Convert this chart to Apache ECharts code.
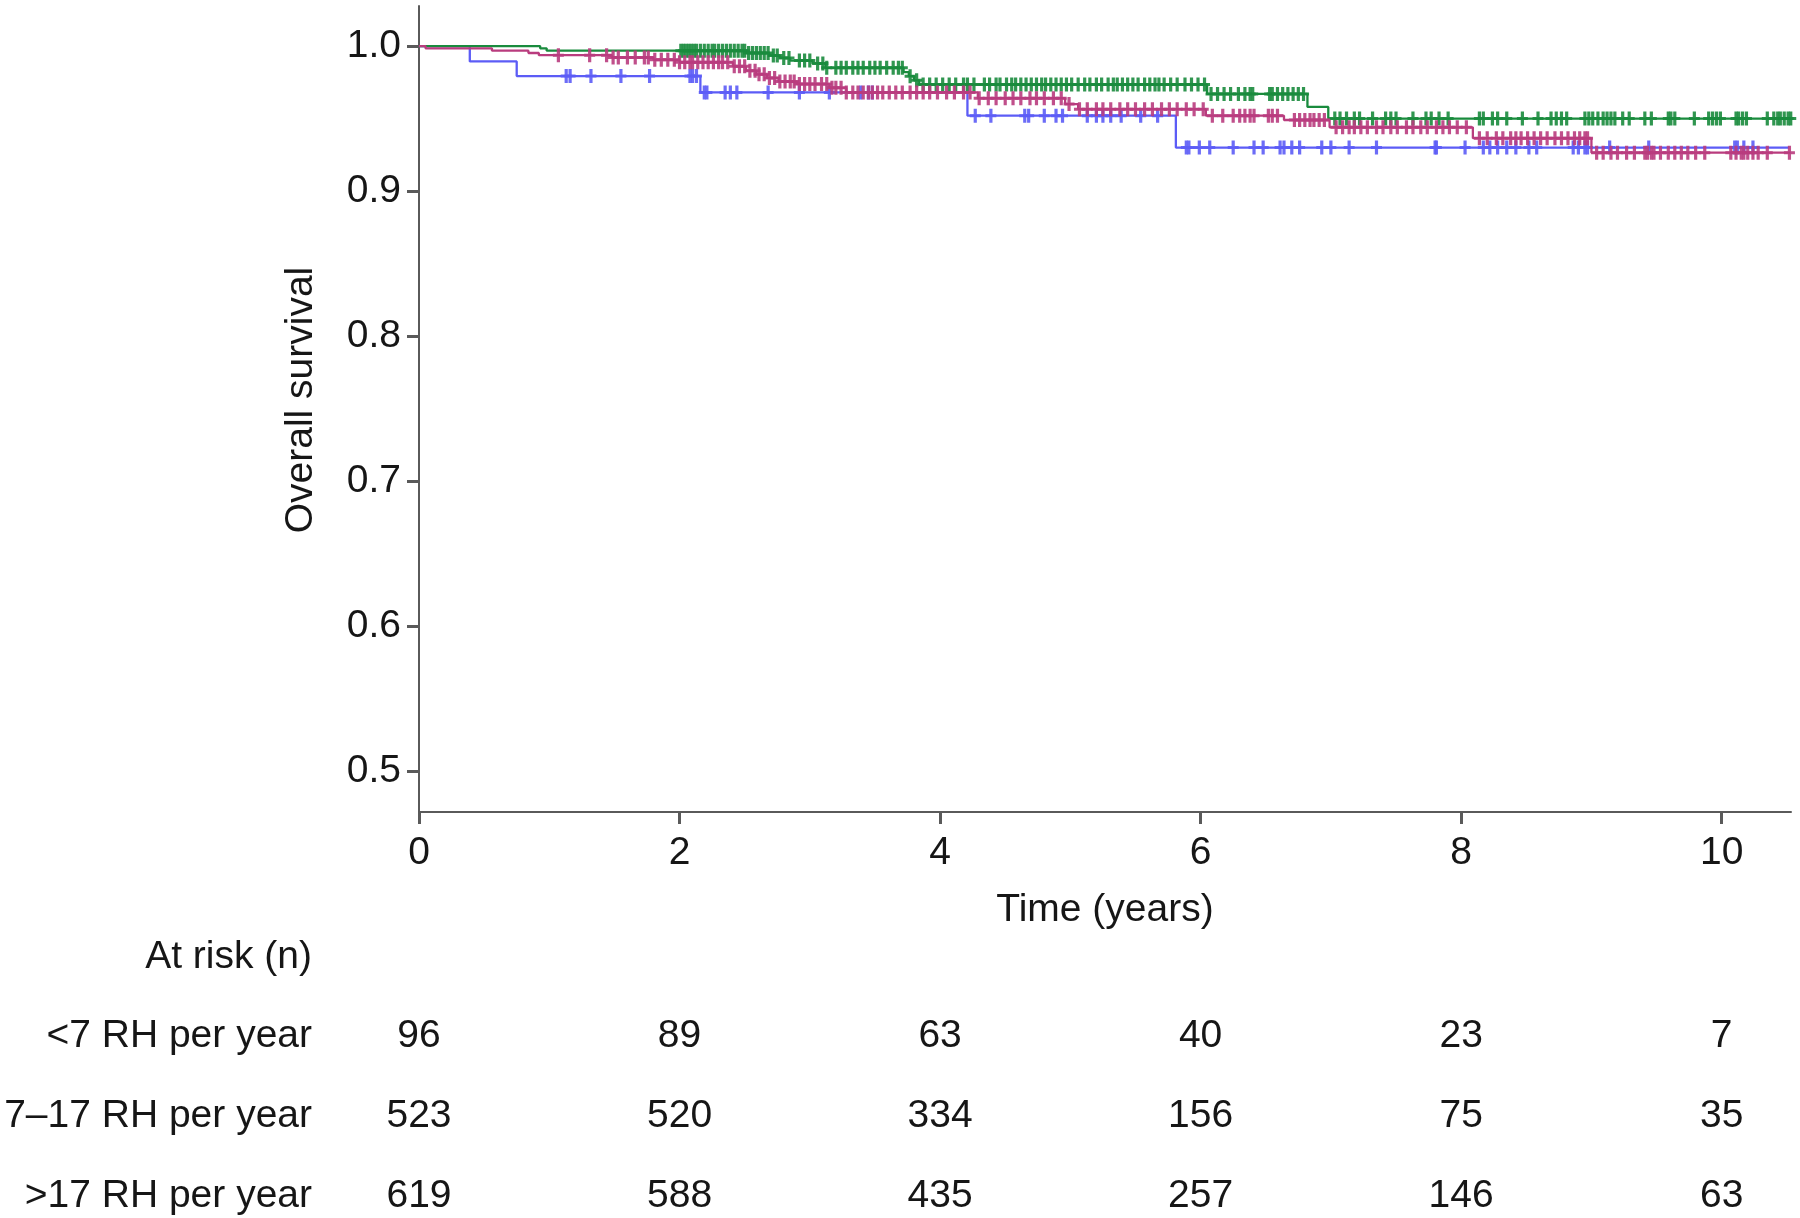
<!DOCTYPE html>
<html>
<head>
<meta charset="utf-8">
<script src="https://cdn.jsdelivr.net/npm/echarts@6/dist/echarts.min.js"></script>
<style>
html,body{margin:0;padding:0;background:#fff;}
#chart{width:1800px;height:1218px;}
</style>
</head>
<body>
<div id="chart"></div>
<script>
// ---------- data ----------
const xTicks = [0, 2, 4, 6, 8, 10];
const yTicks = [0.5, 0.6, 0.7, 0.8, 0.9, 1.0];

const rowLabels = ['At risk (n)', '<7 RH per year', '7\u201317 RH per year', '>17 RH per year'];
const atRiskTimes = [0, 2, 4, 6, 8, 10];
const atRiskLow = [96, 89, 63, 40, 23, 7];
const atRiskMid = [523, 520, 334, 156, 75, 35];
const atRiskHigh = [619, 588, 435, 257, 146, 63];

// Kaplan-Meier step points (time in years, survival)
const blueTimes = [0, 0.39, 0.75, 2.16, 4.21, 5.81, 10.52];
const blueSurv  = [1.0, 0.9894, 0.9793, 0.968, 0.952, 0.930, 0.930];
const blueCensor = [1.13, 1.16, 1.32, 1.55, 1.77, 2.08, 2.10, 2.13, 2.19, 2.21, 2.35, 2.39, 2.44, 2.68, 2.92, 3.15, 3.39, 3.45, 3.48,
  4.27, 4.39, 4.65, 4.68, 4.80, 4.89, 4.94, 5.13, 5.20, 5.25, 5.31, 5.39, 5.54, 5.67,
  5.89, 5.91, 5.99, 6.07, 6.25, 6.41, 6.48, 6.61, 6.64, 6.70, 6.76, 6.93, 7.00, 7.14, 7.35, 7.80, 7.81, 8.03, 8.17, 8.22,
  8.28, 8.35, 8.42, 8.52, 8.58, 8.86, 8.90, 8.95, 8.97, 9.14, 9.44, 10.10, 10.12, 10.17, 10.24];

const greenTimes = [0, 0.93, 0.98, 2.51, 2.69, 2.77, 2.85, 3.02, 3.12, 3.72, 3.76, 3.80, 3.84, 6.05, 6.82, 6.98, 10.53];
const greenSurv  = [1.0, 0.9984, 0.9968, 0.9952, 0.9935, 0.9918, 0.9900, 0.9880, 0.9850, 0.9820, 0.9792, 0.9764, 0.9735, 0.9670, 0.958, 0.950, 0.950];
const greenCensor = [2.01, 2.03, 2.05, 2.07, 2.09, 2.11, 2.13, 2.16, 2.19, 2.22, 2.25, 2.27, 2.30, 2.33, 2.36, 2.39, 2.42, 2.45, 2.48, 2.50,
  2.53, 2.56, 2.59, 2.62, 2.65, 2.68, 2.72, 2.75, 2.80, 2.84, 2.92, 2.96, 3.00, 3.06, 3.10, 3.13, 3.20, 3.24, 3.28, 3.33, 3.37, 3.41,
  3.46, 3.50, 3.54, 3.59, 3.64, 3.68, 3.71, 3.77, 3.82, 3.87, 3.92, 3.97, 4.02, 4.07, 4.12, 4.18, 4.21, 4.26, 4.34, 4.38, 4.43, 4.46,
  4.51, 4.55, 4.58, 4.62, 4.66, 4.70, 4.74, 4.78, 4.81, 4.85, 4.89, 4.93, 4.97, 5.01, 5.06, 5.11, 5.15, 5.20, 5.24, 5.29, 5.33, 5.36,
  5.40, 5.44, 5.48, 5.52, 5.57, 5.61, 5.65, 5.68, 5.72, 5.77, 5.82, 5.88, 5.93, 5.98, 6.03, 6.08, 6.13, 6.18, 6.23, 6.29, 6.34, 6.38,
  6.40, 6.53, 6.55, 6.59, 6.63, 6.67, 6.71, 6.75, 6.79, 7.03, 7.07, 7.12, 7.18, 7.22, 7.32, 7.42, 7.46, 7.50, 7.63, 7.73, 7.77, 7.83,
  7.90, 8.14, 8.17, 8.24, 8.28, 8.35, 8.47, 8.59, 8.69, 8.73, 8.77, 8.81, 8.95, 8.98, 9.01, 9.05, 9.09, 9.12, 9.15, 9.18, 9.24, 9.29,
  9.41, 9.46, 9.59, 9.61, 9.64, 9.79, 9.90, 9.93, 9.96, 9.99, 10.11, 10.13, 10.16, 10.19, 10.35, 10.40, 10.43, 10.45, 10.48, 10.51, 10.53];

const magentaTimes = [0, 0.05, 0.56, 0.84, 0.92, 1.48, 1.80, 2.00, 2.41, 2.51, 2.59, 2.67, 2.76, 2.90, 3.15, 3.28, 4.29, 4.96, 5.06, 6.04, 6.64, 6.99, 8.09, 9.00, 10.53];
const magentaSurv  = [1.0, 0.9984, 0.9968, 0.9952, 0.9937, 0.9921, 0.9905, 0.9888, 0.9860, 0.9830, 0.9805, 0.9780, 0.9755, 0.9738, 0.9712, 0.9680, 0.9640, 0.9600, 0.9565, 0.9520, 0.9490, 0.9440, 0.9365, 0.9265, 0.9265];
const magentaCensor = [1.07, 1.31, 1.44, 1.49, 1.53, 1.60, 1.66, 1.73, 1.76, 1.81, 1.86, 1.91, 1.96, 2.00, 2.04, 2.08, 2.10, 2.14, 2.18,
  2.22, 2.26, 2.30, 2.33, 2.37, 2.42, 2.46, 2.50, 2.54, 2.58, 2.61, 2.65, 2.69, 2.73, 2.77, 2.81, 2.85, 2.88, 2.92, 2.96, 3.00, 3.04,
  3.09, 3.13, 3.17, 3.20, 3.24, 3.28, 3.33, 3.37, 3.41, 3.45, 3.48, 3.52, 3.56, 3.61, 3.66, 3.71, 3.77, 3.82, 3.87, 3.92, 3.98, 4.05,
  4.11, 4.18, 4.23, 4.30, 4.37, 4.43, 4.50, 4.56, 4.62, 4.69, 4.74, 4.80, 4.87, 4.93, 4.99, 5.07, 5.13, 5.20, 5.25, 5.31, 5.38, 5.44,
  5.50, 5.57, 5.63, 5.70, 5.76, 5.82, 5.89, 5.95, 6.02, 6.09, 6.17, 6.25, 6.30, 6.34, 6.38, 6.41, 6.52, 6.55, 6.59, 6.72, 6.76, 6.80,
  6.84, 6.87, 6.91, 6.95, 7.04, 7.09, 7.14, 7.18, 7.23, 7.28, 7.35, 7.40, 7.46, 7.51, 7.58, 7.63, 7.69, 7.74, 7.81, 7.86, 7.91, 7.97,
  8.04, 8.14, 8.20, 8.27, 8.32, 8.38, 8.42, 8.46, 8.51, 8.56, 8.61, 8.66, 8.72, 8.77, 8.82, 8.87, 8.91, 8.95, 8.97, 9.04, 9.09, 9.15,
  9.20, 9.27, 9.33, 9.41, 9.43, 9.46, 9.48, 9.53, 9.59, 9.64, 9.69, 9.74, 9.80, 9.87, 10.07, 10.11, 10.15, 10.17, 10.20, 10.24, 10.28,
  10.35, 10.52];

// ---------- helpers ----------
function stepData(times, surv) { return times.map((t, i) => [t, surv[i]]); }
function survAt(times, surv, t) {
  let v = surv[0];
  for (let i = 0; i < times.length; i++) { if (times[i] <= t) v = surv[i]; else break; }
  return v;
}
function censorData(cens, times, surv) { return cens.map(t => [t, survAt(times, surv, t)]); }

const FONT = '"Liberation Sans", Arial, Helvetica, sans-serif';
const TXT = '#161616';
const AX = '#5a5a5a';
const COL_BLUE = '#5c5cf6';
const COL_GREEN = '#198b3d';
const COL_MAG = '#b93c7e';
const PLUS = 'path://M3.9,0H7.1V5.5H11V8.5H7.1V14H3.9V8.5H0V5.5H3.9Z';

const xMin = 0, xMax = 10.532;
const yMin = 0.472, yMax = 1.0276;

const atRiskRows = [atRiskLow, atRiskMid, atRiskHigh];
const tableData = [];
atRiskRows.forEach((row, r) => {
  row.forEach((n, i) => tableData.push([atRiskTimes[i], rowLabels[r + 1], n]));
});

function kmLine(name, times, surv, color, z) {
  return {
    name, type: 'line', xAxisIndex: 0, yAxisIndex: 0,
    data: stepData(times, surv), step: 'end', showSymbol: false, symbol: 'none',
    lineStyle: { color, width: 2.3 }, z, silent: true
  };
}
function kmCensor(name, cens, times, surv, color, z) {
  return {
    name: name + ' censored', type: 'scatter', xAxisIndex: 0, yAxisIndex: 0,
    data: censorData(cens, times, surv), symbol: PLUS, symbolSize: [11, 14],
    itemStyle: { color, opacity: 0.9 }, z, silent: true
  };
}

const chart = echarts.init(document.getElementById('chart'), null, { renderer: 'canvas' });
chart.setOption({
  animation: false,
  backgroundColor: '#ffffff',
  textStyle: { fontFamily: FONT },
  grid: [
    { left: 419, top: 6, width: 1372, height: 806 },
    { left: 419, top: 957, width: 1372, height: 239 }
  ],
  xAxis: [
    {
      type: 'value', gridIndex: 0, min: xMin, max: xMax,
      name: 'Time (years)', nameLocation: 'middle', nameGap: 79,
      nameTextStyle: { fontSize: 39, color: TXT, fontFamily: FONT },
      axisLine: { show: true, lineStyle: { color: AX, width: 2 } },
      axisTick: { show: true, length: 12, lineStyle: { color: AX, width: 3 }, customValues: xTicks },
      axisLabel: { fontSize: 39, color: TXT, margin: 22, fontFamily: FONT, customValues: xTicks },
      splitLine: { show: false }
    },
    { type: 'value', gridIndex: 1, min: xMin, max: xMax, show: false }
  ],
  yAxis: [
    {
      type: 'value', gridIndex: 0, min: yMin, max: yMax,
      name: 'Overall survival', nameLocation: 'middle', nameGap: 98,
      nameTextStyle: { fontSize: 39, color: TXT, fontFamily: FONT, padding: [0, 0, 0, 18] },
      axisLine: { show: true, lineStyle: { color: AX, width: 2 } },
      axisTick: { show: true, length: 12, lineStyle: { color: AX, width: 3 }, customValues: yTicks },
      axisLabel: { fontSize: 39, color: TXT, margin: 18, fontFamily: FONT, customValues: yTicks,
        formatter: v => Number(v).toFixed(1) },
      splitLine: { show: false }
    },
    {
      type: 'category', gridIndex: 1, inverse: true, data: rowLabels, boundaryGap: false,
      axisLine: { show: false }, axisTick: { show: false }, splitLine: { show: false },
      axisLabel: { fontSize: 39, color: TXT, margin: 107, fontFamily: FONT, interval: 0 }
    }
  ],
  series: [
    kmLine('<7 RH per year', blueTimes, blueSurv, COL_BLUE, 2),
    kmCensor('<7 RH per year', blueCensor, blueTimes, blueSurv, COL_BLUE, 3),
    kmLine('>17 RH per year', greenTimes, greenSurv, COL_GREEN, 4),
    kmCensor('>17 RH per year', greenCensor, greenTimes, greenSurv, COL_GREEN, 5),
    kmLine('7\u201317 RH per year', magentaTimes, magentaSurv, COL_MAG, 6),
    kmCensor('7\u201317 RH per year', magentaCensor, magentaTimes, magentaSurv, COL_MAG, 7),
    {
      name: 'At risk', type: 'scatter', xAxisIndex: 1, yAxisIndex: 1,
      data: tableData, symbolSize: 0, itemStyle: { color: TXT }, silent: true,
      clip: false,
      label: { show: true, position: 'inside', fontSize: 39, color: TXT, fontFamily: FONT,
        textBorderWidth: 0, opacity: 1,
        formatter: p => String(p.value[2]) }
    }
  ]
});
</script>
</body>
</html>
